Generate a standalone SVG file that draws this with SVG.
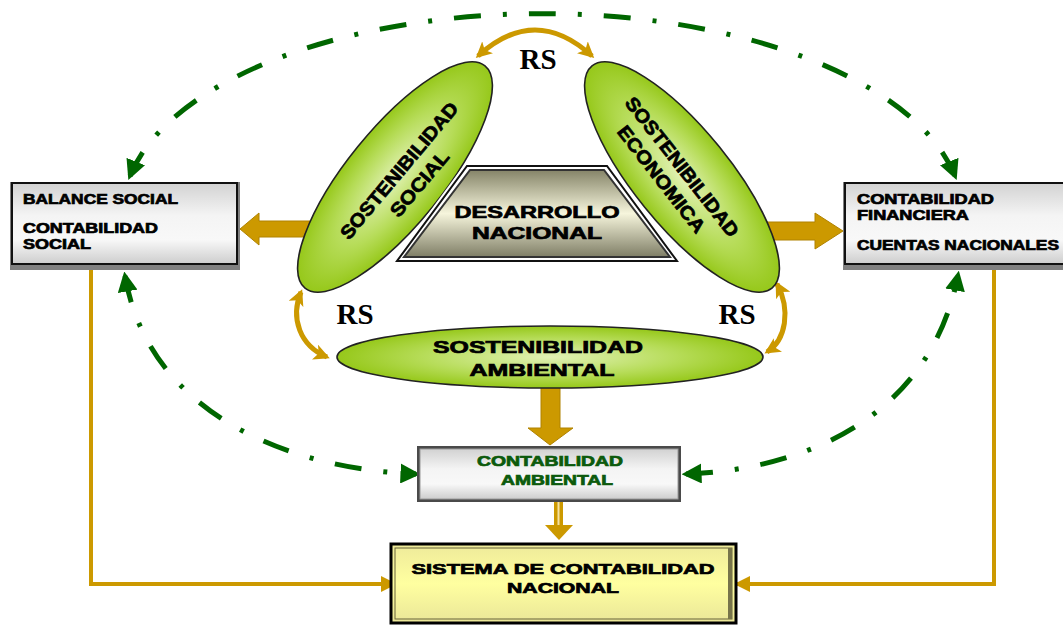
<svg xmlns="http://www.w3.org/2000/svg" width="1063" height="625" viewBox="0 0 1063 625">
<defs>
<style>
.lbl{font-family:"Liberation Sans",Arial,sans-serif;font-weight:bold;fill:#000;stroke:#000;stroke-width:0.7}
.rs{font-family:"Liberation Serif","Times New Roman",serif;font-weight:bold;font-size:29px;fill:#000;text-anchor:middle}
.ell{fill:url(#ellGrad);stroke:#222;stroke-width:1.6}
.green{fill:none;stroke:#006600;stroke-width:5;stroke-dasharray:27 22 4 22;marker-start:url(#gHead);marker-end:url(#gHead)}
.orange{fill:none;stroke:#cc9900;stroke-width:4;marker-end:url(#oHead)}
.rsarrow{fill:none;stroke:#cc9900;stroke-width:5;marker-start:url(#rsHead);marker-end:url(#rsHead)}
.block{fill:#cc9900;stroke:#b08200;stroke-width:1}
</style>
<radialGradient id="ellGrad" cx="50%" cy="50%" r="50%">
<stop offset="0" stop-color="#e2f2b6"/>
<stop offset="0.6" stop-color="#b6dc58"/>
<stop offset="1" stop-color="#96c81a"/>
</radialGradient>
<linearGradient id="boxGrad" x1="0" y1="0" x2="0" y2="1">
<stop offset="0" stop-color="#d2d2d2"/>
<stop offset="0.4" stop-color="#f4f4f4"/>
<stop offset="0.7" stop-color="#f8f8f8"/>
<stop offset="1" stop-color="#cdcdcd"/>
</linearGradient>
<linearGradient id="trapGrad" x1="0" y1="0" x2="0" y2="1">
<stop offset="0" stop-color="#858468"/>
<stop offset="0.5" stop-color="#f6f5dc"/>
<stop offset="1" stop-color="#7f7e66"/>
</linearGradient>
<linearGradient id="sysGrad" x1="0" y1="0" x2="0" y2="1">
<stop offset="0" stop-color="#eeea9a"/>
<stop offset="0.5" stop-color="#ffffa0"/>
<stop offset="1" stop-color="#eae698"/>
</linearGradient>
<marker id="gHead" markerUnits="userSpaceOnUse" markerWidth="20" markerHeight="20" viewBox="0 0 18 18" refX="14" refY="9" orient="auto-start-reverse">
<path d="M0,0 L18,9 L0,18 z" fill="#006600"/>
</marker>
<marker id="oHead" markerUnits="userSpaceOnUse" markerWidth="16" markerHeight="16" viewBox="0 0 16 16" refX="13" refY="8" orient="auto">
<path d="M0,0 L16,8 L0,16 z" fill="#cc9900"/>
</marker>
<marker id="rsHead" markerUnits="userSpaceOnUse" markerWidth="16" markerHeight="16" viewBox="0 0 16 16" refX="13" refY="8" orient="auto-start-reverse">
<path d="M0,0 L16,8 L0,16 L4,8 z" fill="#cc9900"/>
</marker>
</defs>
<rect width="1063" height="625" fill="#fff"/>

<g id="connectors">
<path class="green" d="M130,176 A420 200 0 0 1 955,176"/>
<path class="green" d="M125,276 C150,420 300,470 416,474"/>
<path class="green" d="M686,474 C800,470 930,420 958,275"/>
<path class="orange" d="M91,268 V584 H394"/>
<path class="orange" d="M994,268 V584 H737"/>
<path class="rsarrow" d="M478,56 Q535,4 592,56"/>
<path class="rsarrow" d="M301,292 C290,318 300,346 327,357"/>
<path class="rsarrow" d="M777,284 C791,310 786,340 767,352"/>
<polygon class="block" points="240,229 259,213 259,221 318,221 318,237 259,237 259,245"/>
<polygon class="block" points="762,222 815,222 815,213 843,231 815,249 815,240 762,240"/>
<polygon class="block" points="541,384 560,384 560,428 573,428 550,445 528,428 541,428"/>
<g>
<rect x="554" y="502" width="9" height="25" fill="#cc9900"/>
<rect x="557.5" y="502" width="2" height="23" fill="#f5e2a0"/>
<polygon points="545,525 573,525 559,540" fill="#cc9900"/>
</g>
</g>

<g id="node-social">
<g transform="translate(395,177) rotate(-51)">
<ellipse class="ell" cx="0" cy="0" rx="143" ry="48"/>
</g>
<g transform="translate(408,178) rotate(-50)">
<text class="lbl" x="0" y="-5" font-size="19" text-anchor="middle" textLength="172" lengthAdjust="spacingAndGlyphs">SOSTENIBILIDAD</text>
<text class="lbl" x="3" y="19" font-size="19" text-anchor="middle" textLength="80" lengthAdjust="spacingAndGlyphs">SOCIAL</text>
</g>
</g>

<g id="node-economica">
<g transform="translate(682,177) rotate(51)">
<ellipse class="ell" cx="0" cy="0" rx="143" ry="48"/>
</g>
<g transform="translate(673,174) rotate(52)">
<text class="lbl" x="0" y="-5" font-size="19" text-anchor="middle" textLength="172" lengthAdjust="spacingAndGlyphs">SOSTENIBILIDAD</text>
<text class="lbl" x="-3" y="19" font-size="19" text-anchor="middle" textLength="130" lengthAdjust="spacingAndGlyphs">ECONOMICA</text>
</g>
</g>

<g id="node-ambiental">
<ellipse class="ell" cx="550" cy="357" rx="213" ry="31"/>
<text class="lbl" x="538" y="353" font-size="17" text-anchor="middle" textLength="210" lengthAdjust="spacingAndGlyphs">SOSTENIBILIDAD</text>
<text class="lbl" x="542" y="376" font-size="17" text-anchor="middle" textLength="145" lengthAdjust="spacingAndGlyphs">AMBIENTAL</text>
</g>

<g id="node-desarrollo">
<polygon points="467,166 607,166 677,261 397,261" fill="#fff" stroke="#fff" stroke-width="6"/>
<polygon points="467,166 607,166 677,261 397,261" fill="#fff" stroke="#111" stroke-width="2"/>
<polygon points="470,170 604,170 670,257 404,257" fill="url(#trapGrad)" stroke="#333" stroke-width="2"/>
<text class="lbl" x="537" y="218" font-size="17" text-anchor="middle" textLength="165" lengthAdjust="spacingAndGlyphs">DESARROLLO</text>
<text class="lbl" x="537" y="239" font-size="17" text-anchor="middle" textLength="130" lengthAdjust="spacingAndGlyphs">NACIONAL</text>
</g>

<g id="node-balance">
<rect x="10" y="182" width="230" height="88" fill="#808080"/>
<rect x="12" y="183" width="225" height="81" fill="url(#boxGrad)" stroke="#111" stroke-width="2"/>
<text class="lbl" x="23" y="204" font-size="14" textLength="155" lengthAdjust="spacingAndGlyphs">BALANCE SOCIAL</text>
<text class="lbl" x="23" y="233" font-size="14" textLength="135" lengthAdjust="spacingAndGlyphs">CONTABILIDAD</text>
<text class="lbl" x="23" y="249" font-size="14" textLength="68" lengthAdjust="spacingAndGlyphs">SOCIAL</text>
</g>

<g id="node-financiera">
<rect x="843" y="182" width="222" height="88" fill="#808080"/>
<rect x="845" y="183" width="222" height="81" fill="url(#boxGrad)" stroke="#111" stroke-width="2"/>
<text class="lbl" x="857" y="204" font-size="14" textLength="137" lengthAdjust="spacingAndGlyphs">CONTABILIDAD</text>
<text class="lbl" x="857" y="220" font-size="14" textLength="112" lengthAdjust="spacingAndGlyphs">FINANCIERA</text>
<text class="lbl" x="857" y="250" font-size="14" textLength="202" lengthAdjust="spacingAndGlyphs">CUENTAS NACIONALES</text>
</g>

<g id="node-contabilidad-ambiental">
<rect x="417" y="446" width="264" height="56" fill="#4a4a4a"/>
<rect x="420" y="449" width="258" height="50" fill="url(#boxGrad)" stroke="#9a9a9a" stroke-width="1"/>
<text class="lbl" x="550" y="466" font-size="14" text-anchor="middle" textLength="146" lengthAdjust="spacingAndGlyphs" style="fill:#0c5a0c;stroke:#0c5a0c">CONTABILIDAD</text>
<text class="lbl" x="557" y="485" font-size="14" text-anchor="middle" textLength="112" lengthAdjust="spacingAndGlyphs" style="fill:#0c5a0c;stroke:#0c5a0c">AMBIENTAL</text>
</g>

<g id="node-sistema">
<rect x="391" y="544" width="345" height="79" fill="url(#sysGrad)" stroke="#000" stroke-width="3"/>
<rect x="395" y="548" width="337" height="71" fill="none" stroke="#66633a" stroke-width="1"/>
<rect x="728" y="548" width="4" height="71" fill="#77744a"/>
<text class="lbl" x="563" y="574" font-size="15" text-anchor="middle" textLength="303" lengthAdjust="spacingAndGlyphs">SISTEMA DE CONTABILIDAD</text>
<text class="lbl" x="563" y="593" font-size="15" text-anchor="middle" textLength="112" lengthAdjust="spacingAndGlyphs">NACIONAL</text>
</g>

<g id="labels-rs">
<text class="rs" x="538" y="69">RS</text>
<text class="rs" x="355" y="324">RS</text>
<text class="rs" x="737" y="324">RS</text>
</g>
</svg>
